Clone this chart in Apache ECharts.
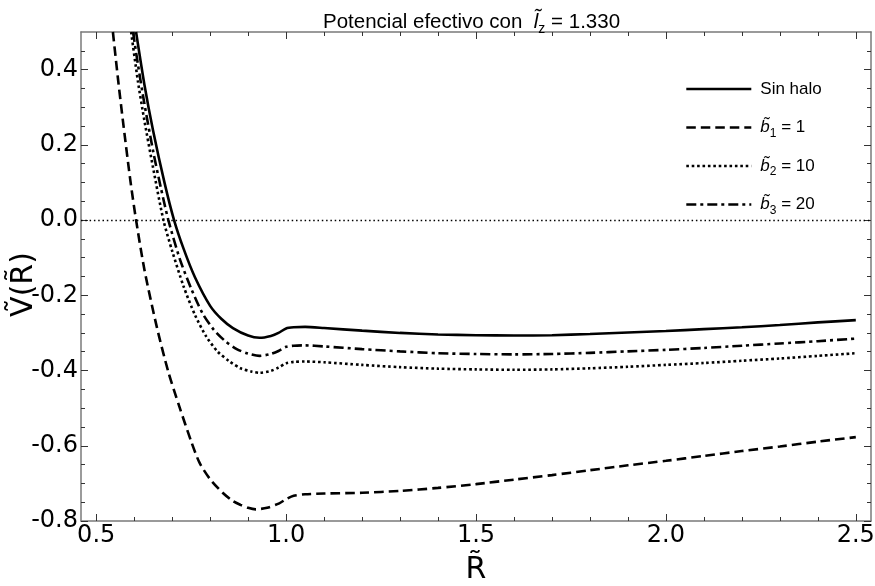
<!DOCTYPE html>
<html>
<head>
<meta charset="utf-8">
<script src="https://cdn.jsdelivr.net/npm/echarts@6/dist/echarts.min.js"></script>
<style>
  html, body { margin: 0; padding: 0; background: #fff; }
  #chart { width: 875px; height: 586px; }
</style>
</head>
<body>
<div id="chart"></div>
<script>
// Effective potential curves V(R) for l_z = 1.330
const xSinHalo = [0.605, 0.627, 0.65, 0.68, 0.705, 0.73, 0.76, 0.80, 0.83, 0.86, 0.90, 0.93, 0.96, 0.98, 1.00, 1.02, 1.05, 1.10, 1.20, 1.30, 1.40, 1.50, 1.60, 1.70, 1.80, 1.90, 2.00, 2.10, 2.20, 2.30, 2.40, 2.50];
const ySinHalo = [0.50, 0.36, 0.237, 0.099, 0.0, -0.076, -0.152, -0.228, -0.263, -0.287, -0.307, -0.313, -0.308, -0.300, -0.288, -0.285, -0.284, -0.287, -0.294, -0.300, -0.304, -0.306, -0.307, -0.306, -0.303, -0.299, -0.295, -0.290, -0.285, -0.279, -0.272, -0.266];

const xB1 = [0.544, 0.557, 0.57, 0.59, 0.605, 0.627, 0.66, 0.69, 0.719, 0.75, 0.772, 0.80, 0.833, 0.86, 0.88, 0.90, 0.92, 0.95, 0.982, 1.00, 1.02, 1.05, 1.10, 1.20, 1.30, 1.40, 1.50, 1.60, 1.70, 1.80, 1.90, 2.00, 2.10, 2.20, 2.30, 2.40, 2.50];
const yB1 = [0.50, 0.379, 0.267, 0.105, 0.0, -0.132, -0.286, -0.404, -0.496, -0.588, -0.645, -0.689, -0.725, -0.747, -0.757, -0.765, -0.769, -0.765, -0.753, -0.742, -0.733, -0.729, -0.727, -0.725, -0.720, -0.712, -0.702, -0.690, -0.678, -0.665, -0.652, -0.640, -0.627, -0.614, -0.602, -0.589, -0.577];

const xB2 = [0.592, 0.61, 0.627, 0.65, 0.677, 0.70, 0.73, 0.76, 0.79, 0.82, 0.85, 0.88, 0.91, 0.93, 0.96, 0.98, 1.00, 1.02, 1.05, 1.10, 1.20, 1.30, 1.40, 1.50, 1.60, 1.70, 1.80, 1.90, 2.00, 2.10, 2.20, 2.30, 2.40, 2.50];
const yB2 = [0.50, 0.368, 0.264, 0.138, 0.0, -0.082, -0.176, -0.252, -0.31, -0.35, -0.375, -0.394, -0.403, -0.406, -0.401, -0.392, -0.381, -0.377, -0.376, -0.378, -0.385, -0.391, -0.395, -0.397, -0.398, -0.397, -0.394, -0.390, -0.385, -0.380, -0.374, -0.368, -0.361, -0.354];

const xB3 = [0.597, 0.61, 0.627, 0.65, 0.67, 0.69, 0.72, 0.75, 0.78, 0.81, 0.84, 0.87, 0.90, 0.93, 0.96, 0.98, 1.00, 1.02, 1.05, 1.10, 1.20, 1.30, 1.40, 1.50, 1.60, 1.70, 1.80, 1.90, 2.00, 2.10, 2.20, 2.30, 2.40, 2.50];
const yB3 = [0.50, 0.413, 0.309, 0.183, 0.087, 0.0, -0.103, -0.182, -0.248, -0.292, -0.322, -0.343, -0.355, -0.361, -0.356, -0.348, -0.337, -0.334, -0.333, -0.336, -0.343, -0.349, -0.354, -0.356, -0.357, -0.356, -0.353, -0.349, -0.345, -0.340, -0.334, -0.328, -0.322, -0.315];

// Tick positions
const xMajorTicks = [0.5, 1.0, 1.5, 2.0, 2.5];
const xMinorTicks = [0.6, 0.7, 0.8, 0.9, 1.1, 1.2, 1.3, 1.4, 1.6, 1.7, 1.8, 1.9, 2.1, 2.2, 2.3, 2.4];
const yMajorTicks = [-0.8, -0.6, -0.4, -0.2, 0.0, 0.2, 0.4];
const yMinorTicks = [-0.75, -0.7, -0.65, -0.55, -0.5, -0.45, -0.35, -0.3, -0.25, -0.15, -0.1, -0.05, 0.05, 0.1, 0.15, 0.25, 0.3, 0.35, 0.45];

const seriesNames = ['Sin halo', 'b1 = 1', 'b2 = 10', 'b3 = 20'];
const legendLabels = ['Sin halo', '{i|b\u0303}{s|1} = 1', '{i|b\u0303}{s|2} = 10', '{i|b\u0303}{s|3} = 20'];

const zip = (xs, ys) => xs.map((x, i) => [x, ys[i]]);

const X_MIN = 0.46, X_MAX = 2.54, Y_MIN = -0.8, Y_MAX = 0.5;
const frameColor = '#7a7a7a';
const tickColor = '#333';

function xAxisDef(position, ticks, len, withLine, withLabels) {
  const ax = {
    type: 'value', min: X_MIN, max: X_MAX, position: position,
    axisLine: { show: withLine, onZero: false, lineStyle: { color: frameColor, width: 1.5 } },
    axisTick: { show: true, inside: true, length: len, customValues: ticks, lineStyle: { color: tickColor, width: 1 } },
    axisLabel: { show: false },
    splitLine: { show: false }
  };
  if (withLabels) {
    ax.axisLabel = {
      show: true, customValues: ticks, margin: 3,
      formatter: v => v.toFixed(1),
      fontFamily: 'DejaVu Sans', fontSize: 24, color: '#000'
    };
    ax.name = 'R\u0303';
    ax.nameLocation = 'middle';
    ax.nameGap = 34;
    ax.nameMoveOverlap = false;
    ax.nameTextStyle = { fontFamily: 'DejaVu Sans', fontSize: 30, color: '#000' };
  }
  return ax;
}

function yAxisDef(position, ticks, len, withLine, withLabels) {
  const ax = {
    type: 'value', min: Y_MIN, max: Y_MAX, position: position,
    axisLine: { show: withLine, onZero: false, lineStyle: { color: frameColor, width: 1.5 } },
    axisTick: { show: true, inside: true, length: len, customValues: ticks, lineStyle: { color: tickColor, width: 1 } },
    axisLabel: { show: false },
    splitLine: { show: false }
  };
  if (withLabels) {
    ax.axisLabel = {
      show: true, customValues: ticks, margin: 3,
      formatter: v => v.toFixed(1),
      fontFamily: 'DejaVu Sans', fontSize: 24, color: '#000'
    };
    ax.name = 'V\u0303(R\u0303)';
    ax.nameLocation = 'middle';
    ax.nameGap = 42;
    ax.nameRotate = 90;
    ax.nameMoveOverlap = false;
    ax.nameTextStyle = { fontFamily: 'DejaVu Sans', fontSize: 30, color: '#000', padding: [0, 16, 0, 0] };
  }
  return ax;
}

const lineBase = { type: 'line', showSymbol: false, symbol: 'none', smooth: 0.25, xAxisIndex: 0, yAxisIndex: 0, itemStyle: { color: '#000' } };

const option = {
  animation: false,
  backgroundColor: '#fff',
  title: {
    text: 'Potencial efectivo con  {i|l\u0303}{s|z} = 1.330',
    left: 318, top: 3,
    textStyle: {
      fontFamily: 'Liberation Sans', fontSize: 20.5, fontWeight: 'normal', color: '#000', lineHeight: 28,
      rich: {
        i: { fontFamily: 'Liberation Sans', fontStyle: 'italic', fontSize: 20.5, lineHeight: 28, color: '#000' },
        s: { fontFamily: 'Liberation Sans', fontSize: 14, lineHeight: 14, verticalAlign: 'bottom', color: '#000' }
      }
    }
  },
  legend: {
    orient: 'vertical',
    left: 680, top: 72,
    itemWidth: 65, itemHeight: 24, itemGap: 14.5,
    data: seriesNames,
    formatter: name => legendLabels[seriesNames.indexOf(name)],
    itemStyle: { opacity: 0 },
    lineStyle: { width: 2.6 },
    textStyle: {
      fontFamily: 'Liberation Sans', fontSize: 17, lineHeight: 24, color: '#000', padding: [0, 0, 0, 4],
      rich: {
        i: { fontFamily: 'Liberation Sans', fontStyle: 'italic', fontSize: 17, lineHeight: 24, color: '#000' },
        s: { fontFamily: 'Liberation Sans', fontSize: 12, lineHeight: 12, verticalAlign: 'bottom', color: '#000' }
      }
    }
  },
  grid: { left: 81, right: 4, top: 32, bottom: 65, outerBoundsMode: 'none' },
  xAxis: [
    xAxisDef('bottom', xMajorTicks, 7, true, true),
    xAxisDef('bottom', xMinorTicks, 4, false, false),
    xAxisDef('top', xMajorTicks, 7, true, false),
    xAxisDef('top', xMinorTicks, 4, false, false)
  ],
  yAxis: [
    yAxisDef('left', yMajorTicks, 7, true, true),
    yAxisDef('left', yMinorTicks, 4, false, false),
    yAxisDef('right', yMajorTicks, 7, true, false),
    yAxisDef('right', yMinorTicks, 4, false, false)
  ],
  series: [
    Object.assign({}, lineBase, {
      name: seriesNames[0],
      data: zip(xSinHalo, ySinHalo),
      lineStyle: { color: '#000', width: 2.6, type: 'solid' },
      markLine: {
        silent: true, symbol: ['none', 'none'], label: { show: false },
        lineStyle: { color: '#000', width: 1.4, type: [1.5, 2.8] },
        data: [{ yAxis: 0 }]
      }
    }),
    Object.assign({}, lineBase, {
      name: seriesNames[1],
      data: zip(xB1, yB1),
      lineStyle: { color: '#000', width: 2.6, type: [9.5, 5] }
    }),
    Object.assign({}, lineBase, {
      name: seriesNames[2],
      data: zip(xB2, yB2),
      lineStyle: { color: '#000', width: 2.6, type: [2.6, 2.8] }
    }),
    Object.assign({}, lineBase, {
      name: seriesNames[3],
      data: zip(xB3, yB3),
      lineStyle: { color: '#000', width: 2.6, type: [10, 4, 3, 4] }
    })
  ]
};

const chart = echarts.init(document.getElementById('chart'), null, { renderer: 'canvas' });
chart.setOption(option);
</script>
</body>
</html>
